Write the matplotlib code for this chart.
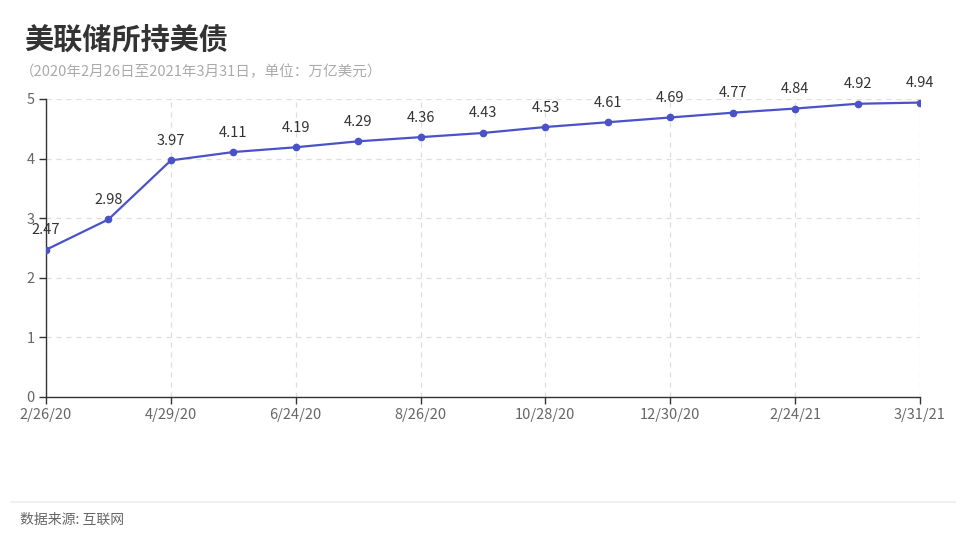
import matplotlib
matplotlib.use("Agg")
import matplotlib.pyplot as plt
from matplotlib.lines import Line2D

plt.rcParams['font.family'] = ['Noto Sans CJK SC', 'DejaVu Sans']

# data (unlabeled dates are guesses)
dates = ["2/26/20", "3/25/20", "4/29/20", "5/27/20", "6/24/20", "7/29/20",
         "8/26/20", "9/30/20", "10/28/20", "11/25/20", "12/30/20", "1/27/21",
         "2/24/21", "3/10/21", "3/31/21"]
holdings = [2.47, 2.98, 3.97, 4.11, 4.19, 4.29, 4.36, 4.43, 4.53, 4.61,
            4.69, 4.77, 4.84, 4.92, 4.94]

title = "美联储所持美债"
subtitle = "（2020年2月26日至2021年3月31日，单位：万亿美元）"
source = "数据来源: 互联网"

line_color = "#4a52c9"

fig = plt.figure(figsize=(9.6, 5.4), dpi=100)
ax = fig.add_axes([46/960, 143/540, 874/960, 298/540])

x = list(range(len(dates)))
ax.plot(x, holdings, color=line_color, lw=1.6, marker="o", ms=4.5, zorder=3)
for xi, v in zip(x, holdings):
    ax.annotate(f"{v:.2f}", (xi, v), xytext=(0, 9), textcoords="offset points",
                ha="center", va="bottom", fontsize=10.5, color="#333333")

ax.set_xlim(0, len(dates) - 1)
ax.set_ylim(0, 5)
ax.set_yticks([0, 1, 2, 3, 4, 5])
ax.set_xticks(x[::2])
ax.set_xticklabels(dates[::2])

ax.grid(True, ls=(0, (4, 4)), color="#dddddd", lw=0.9)
ax.set_axisbelow(True)
for s in ["top", "right"]:
    ax.spines[s].set_visible(False)
for s in ["left", "bottom"]:
    ax.spines[s].set_color("#333333")
    ax.spines[s].set_linewidth(1.0)
ax.tick_params(axis="both", colors="#333333", labelcolor="#666666",
               labelsize=10.5, length=5, width=1)
ax.tick_params(axis="x", pad=3)
ax.tick_params(axis="y", pad=3)

fig.text(24/960, 1 - 40/540, title, fontsize=21, fontweight="bold",
         color="#333333", va="center", ha="left")
fig.text(20/960, 1 - 72/540, subtitle, fontsize=10.5, color="#aaaaaa",
         va="center", ha="left")

fig.add_artist(Line2D([11/960, 955/960], [1 - 502/540, 1 - 502/540],
                      color="#eeeeee", lw=1.2))
fig.text(20/960, 1 - 520/540, source, fontsize=10, color="#666666",
         va="center", ha="left")

fig.savefig("out.png", dpi=100)
